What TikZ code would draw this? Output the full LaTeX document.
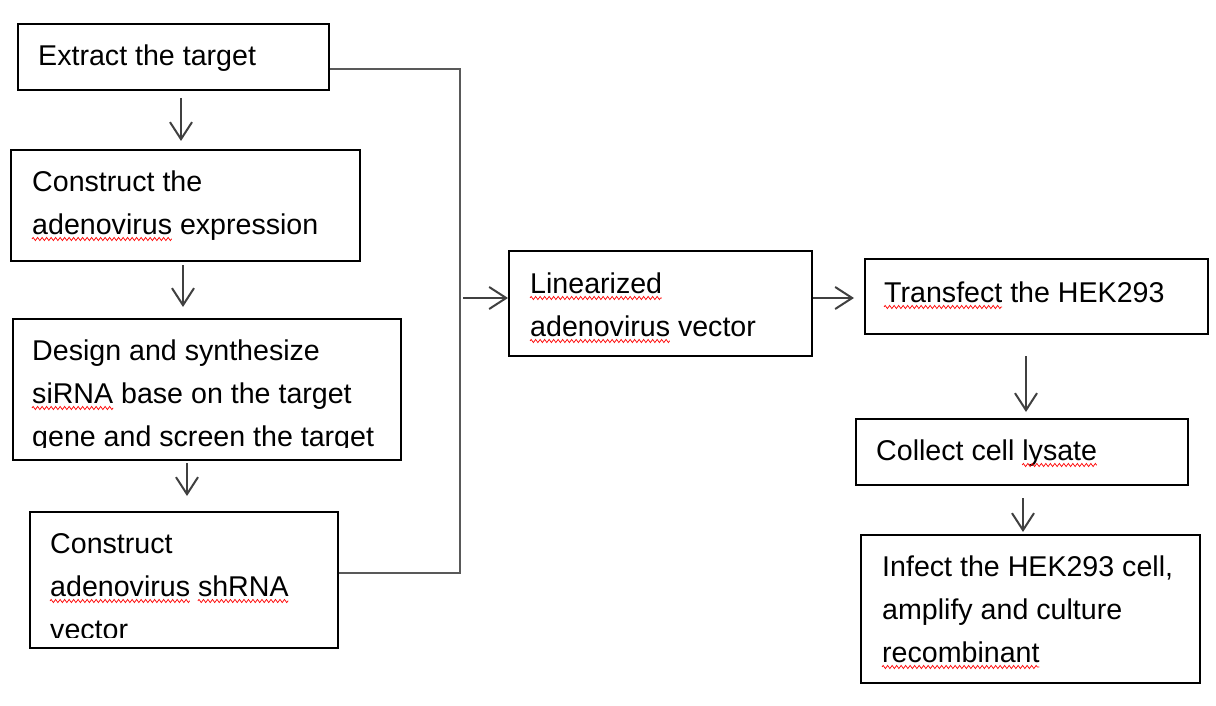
\documentclass[tikz,border=0pt]{standalone}
\usepackage{fontspec}
\setmainfont{Liberation Sans}
\usetikzlibrary{arrows.meta,calc,positioning,decorations.pathmorphing}
% red wavy underline: node, lines above the last one, text before the word, word
\newcommand{\redwave}[4]{\draw[wave] let \n1={width("#3x")-width("x")}, \n2={width("#4")} in
  ($(#1.base west)+(\n1,5-#2*43)$) -- ++(\n2,0);}

\begin{document}
\fontsize{28.6}{43}\selectfont
\begin{tikzpicture}[x=1pt,y=-1pt,
  box/.style={draw=black,line width=2pt,inner sep=0pt},
  txt/.style={inner sep=0pt,anchor=base west,align=left,font=\fontsize{28.6}{43}\selectfont},
  flow/.style={-{Straight Barb[length=17pt,width=22pt,line width=2pt]},line width=2pt,draw=black!75},
  bracket/.style={line width=2.5pt,draw=black!65},
  wave/.style={draw=red,line width=0.7pt,decorate,decoration={zigzag,segment length=4.5pt,amplitude=1.6pt}}]
\useasboundingbox (0,0) rectangle (1216,706);
% boxes
\node[box,minimum width=311pt,minimum height=66pt] (extract) at (173.5,57) {};
\node[box,minimum width=349pt,minimum height=111pt] (express) at (185.5,205.5) {};
\node[box,minimum width=388pt,minimum height=141pt] (design) at (207,389.5) {};
\node[box,minimum width=308pt,minimum height=136pt] (shrna) at (184,580) {};
\node[box,minimum width=303pt,minimum height=105pt] (linear) at (660.5,303.5) {};
\node[box,minimum width=343pt,minimum height=75pt] (transfect) at (1036.5,296.5) {};
\node[box,minimum width=332pt,minimum height=66pt] (collect) at (1022,452) {};
\node[box,minimum width=339pt,minimum height=148pt] (infect) at (1030.5,609) {};
% texts (placed at the baseline of their last line)
\node[txt] (extract-t) at (38,66) {Extract the target};
\node[txt] (express-t) at (32,234) {Construct the\\adenovirus expression};
\begin{scope}
\clip (design.north west) rectangle (design.east |- 0,447.5);
\node[txt] (design-t) at (32,446) {Design and synthesize\\siRNA base on the target\\gene and screen the target};
\end{scope}
\begin{scope}
\clip (shrna.north west) rectangle (shrna.east |- 0,637);
\node[txt] (shrna-t) at (50,639) {Construct\\adenovirus shRNA\\vector};
\end{scope}
\node[txt] (linear-t) at (530,336) {Linearized\\adenovirus vector};
\node[txt] (transfect-t) at (884,302) {Transfect the HEK293};
\node[txt] (collect-t) at (876,460) {Collect cell lysate};
\node[txt] (infect-t) at (882,662) {Infect the HEK293 cell,\\amplify and culture\\recombinant};
% spell check marks
\redwave{express-t}{0}{}{adenovirus}
\redwave{design-t}{1}{}{siRNA}
\redwave{shrna-t}{1}{}{adenovirus}
\redwave{shrna-t}{1}{adenovirus }{shRNA}
\redwave{linear-t}{1}{}{Linearized}
\redwave{linear-t}{0}{}{adenovirus}
\redwave{transfect-t}{0}{}{Transfect}
\redwave{collect-t}{0}{Collect cell }{lysate}
\redwave{infect-t}{0}{}{recombinant}
% connectors
\foreach \a/\b/\x/\s/\e in {extract/express/181/7/8,express/design/183/3/11,design/shrna/187/2/15,transfect/collect/1026/21/6,collect/infect/1023/12/2}
  \draw[flow,shorten <=\s pt,shorten >=\e pt] (\a.south -| \x,0) -- (\b.north -| \x,0);
\coordinate (jtop) at (460,69);
\coordinate (jbot) at (460,573);
\coordinate (jmid) at (463,298);
\draw[bracket] (extract.east |- jtop) -- (jtop) -- (jbot) -- (shrna.east |- jbot);
\draw[flow] (jmid) -- (linear.west |- jmid);
\draw[flow,shorten >=10pt] (linear.east |- jmid) -- (transfect.west |- jmid);
\end{tikzpicture}
\end{document}
